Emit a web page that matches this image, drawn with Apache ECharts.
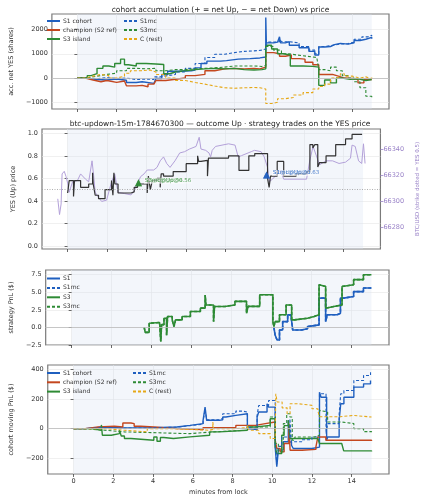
<!DOCTYPE html>
<html>
<head>
<meta charset="utf-8">
<script src="https://cdn.jsdelivr.net/npm/echarts@6/dist/echarts.min.js"></script>
<style>
html, body { margin: 0; padding: 0; background: #fff; }
#chart { width: 429px; height: 500px; }
</style>
</head>
<body>
<div id="chart"></div>
<script>
// ---- data: [minutes from lock, value] ----
var xTicks = [0, 2, 4, 6, 8, 10, 12, 14];
var shadeRange = [0, 15];

// panel 1: accumulated net YES shares
var accS1 = [[0,0],[0.5,-60],[1.0,-80],[1.5,-40],[2.0,-90],[2.5,-180],[3.0,-150],[3.3,-220],[3.9,-190],[4.0,-20],[4.3,150],[4.6,280],[5.2,300],[5.8,330],[6.0,420],[6.3,600],[6.6,700],[7.3,720],[7.6,780],[8.2,800],[8.8,830],[9.3,870],[9.6,2500],[9.63,1450],[10.0,1480],[10.2,1400],[10.3,1700],[10.35,1450],[10.6,1500],[10.8,1350],[11.3,1250],[11.8,1100],[12.1,950],[12.3,1280],[12.6,1300],[12.9,1380],[13.1,1430],[13.4,1400],[13.8,1450],[14.1,1550],[14.4,1600],[14.7,1680],[15.0,1620]];
var accS1mc = [[0,0],[0.5,-30],[1.0,20],[1.5,-20],[2.0,0],[2.5,-60],[3.0,-40],[3.5,-60],[3.9,50],[4.2,100],[4.6,150],[5.0,250],[5.5,400],[6.0,600],[6.5,850],[7.0,980],[7.5,1050],[8.0,1100],[8.5,1120],[9.0,1150],[9.4,1200],[9.6,1350],[9.7,1480],[10.0,1500],[10.3,1600],[10.4,1500],[10.8,1450],[11.3,1300],[11.8,1150],[12.1,1000],[12.3,1300],[12.6,1350],[13.0,1400],[13.4,1420],[13.8,1480],[14.1,1600],[14.5,1700],[14.8,1760],[15.0,1720]];
var accChamp = [[0,0],[0.4,-80],[0.8,-150],[1.2,-100],[1.5,-180],[2.0,-120],[2.4,-200],[2.5,-320],[3.0,-300],[3.3,-360],[3.6,-250],[3.9,-300],[4.0,-100],[4.5,-50],[5.0,0],[5.5,100],[6.0,150],[6.5,300],[7.0,380],[7.5,400],[8.0,380],[8.5,400],[9.0,380],[9.3,450],[9.6,1050],[10.0,1000],[10.3,900],[10.6,950],[10.9,800],[11.3,780],[11.6,650],[12.0,550],[12.3,150],[12.7,150],[13.0,80],[13.3,0],[13.6,-20],[14.0,-50],[14.3,-200],[14.6,-60],[15.0,-80]];
var accS3 = [[0,0],[0.5,100],[0.7,180],[1.0,400],[1.3,500],[1.6,450],[1.9,600],[2.2,780],[2.4,550],[2.6,500],[3.0,600],[3.5,580],[4.0,560],[4.4,180],[4.7,250],[5.0,300],[5.5,350],[6.0,380],[6.5,400],[7.0,380],[7.5,400],[8.0,350],[8.5,330],[9.0,350],[9.4,380],[9.6,1350],[9.9,1200],[10.2,1000],[10.5,950],[10.85,500],[11.5,480],[12.0,450],[12.3,-300],[12.6,-80],[12.9,-200],[13.2,0],[13.5,-50],[13.9,-30],[14.3,-100],[14.7,-60],[15.0,-50]];
var accS3mc = [[0,0],[0.5,80],[1.0,150],[1.5,200],[2.0,300],[2.5,400],[3.0,380],[3.5,400],[4.0,300],[4.5,350],[5.0,350],[5.5,380],[6.0,400],[6.5,420],[7.0,450],[7.5,500],[8.0,500],[8.5,500],[9.0,480],[9.4,520],[9.6,1300],[10.0,1150],[10.4,1000],[10.8,950],[11.2,900],[11.7,850],[12.2,820],[12.3,350],[12.6,300],[12.9,450],[13.2,300],[13.5,100],[13.8,0],[14.1,-150],[14.4,-400],[14.7,-750],[15.0,-850]];
var accRest = [[0,0],[0.4,80],[0.8,150],[1.2,100],[1.6,0],[2.0,80],[2.4,200],[2.7,300],[3.2,330],[3.7,250],[4.0,150],[4.5,0],[5.0,-100],[5.5,-180],[6.0,-250],[6.5,-330],[7.0,-400],[7.5,-420],[8.0,-400],[8.5,-390],[9.0,-400],[9.3,-450],[9.6,-1050],[9.9,-1000],[10.2,-850],[10.6,-800],[11.0,-700],[11.5,-600],[12.0,-450],[12.3,-350],[12.6,-250],[12.9,0],[13.2,60],[13.4,180],[13.6,80],[14.0,0],[14.4,50],[14.7,-30],[15.0,50]];

// panel 2: YES price and BTC
var yesPrice = [[0,0.47],[0.08,0.58],[0.3,0.44],[0.35,0.58],[0.66,0.52],[1.07,0.55],[1.27,0.65],[1.3,0.55],[1.4,0.45],[1.57,0.42],[1.9,0.5],[2.23,0.58],[2.3,0.45],[2.35,0.65],[2.4,0.55],[2.56,0.47],[3.22,0.48],[3.38,0.52],[3.55,0.55],[4.04,0.47],[4.1,0.62],[4.2,0.5],[4.3,0.58],[4.54,0.6],[4.7,0.52],[4.75,0.64],[4.87,0.62],[5.36,0.66],[6.02,0.73],[6.6,0.8],[6.65,0.75],[6.77,0.76],[7.1,0.62],[7.15,0.78],[8.17,0.8],[8.7,0.67],[9.2,0.8],[9.5,0.82],[10.15,0.6],[10.23,0.52],[10.3,0.62],[10.64,0.75],[10.97,0.62],[11.6,0.64],[12.13,0.66],[12.3,0.9],[12.45,0.87],[12.55,0.9],[12.7,0.7],[12.79,0.74],[13.12,0.8],[13.61,0.9],[14.11,0.95],[14.44,0.99],[14.95,0.99]];
var btcPrice = [[-0.5,66302],[-0.41,66290],[-0.33,66298],[-0.28,66321],[-0.17,66323],[-0.08,66319],[0,66314],[0.08,66307],[0.25,66315],[0.5,66316],[0.66,66321],[0.91,66317],[1.07,66315],[1.24,66331],[1.32,66320],[1.4,66307],[1.57,66303],[1.73,66300],[1.98,66301],[2.23,66315],[2.39,66321],[2.56,66307],[2.89,66306],[3.22,66305],[3.38,66308],[3.55,66314],[3.71,66319],[3.88,66321],[4.04,66324],[4.37,66324],[4.54,66326],[4.7,66331],[4.87,66334],[5.03,66329],[5.2,66326],[5.45,66331],[5.69,66337],[5.94,66338],[6.19,66340],[6.52,66342],[6.68,66349],[6.77,66340],[7.01,66339],[7.18,66337],[7.26,66334],[7.34,66339],[7.51,66342],[8.17,66344],[8.5,66343],[8.66,66334],[8.83,66335],[9.16,66337],[9.32,66338],[9.49,66339],[9.82,66338],[9.98,66334],[10.15,66326],[10.23,66315],[10.4,66317],[10.64,66321],[10.81,66324],[10.97,66317],[12.13,66317],[12.29,66331],[12.46,66342],[12.79,66328],[13.12,66331],[13.45,66331],[13.78,66329],[14.11,66330],[14.36,66333],[14.44,66343],[14.6,66342],[14.77,66331],[14.93,66329],[15.02,66344],[15.1,66329]];
var strikeYes = 0.5;
var trades = [
  { name: 'S3', t: 3.6, p: 0.56, color: '#2e8b35' },
  { name: 'S3mc', t: 3.6, p: 0.56, color: '#2e8b35' },
  { name: 'S1', t: 10.1, p: 0.63, color: '#1f5fbf' },
  { name: 'S1mc', t: 10.1, p: 0.63, color: '#1f5fbf' }
];

// panel 3: strategy PnL
var pnlS3 = [[3.63,0],[3.68,-0.7],[3.88,0.6],[3.96,0.7],[4.4,0.7],[4.46,-2.0],[4.5,0.4],[4.62,1.3],[4.75,-1.1],[4.8,1.55],[5.03,1.07],[5.12,0.12],[5.2,1.07],[5.53,1.55],[5.94,2.26],[6.44,2.74],[6.68,4.6],[6.72,3.2],[7.1,0.83],[7.15,2.98],[7.67,3.2],[8.17,3.7],[8.75,2.0],[8.83,3.0],[9.41,4.64],[10.07,0.83],[10.12,0.12],[10.18,0.83],[10.4,1.8],[10.73,3.2],[11.01,1.07],[11.14,1.3],[11.8,1.55],[12.13,1.8],[12.38,6.07],[12.46,5.83],[12.71,2.74],[12.79,2.98],[13.12,3.2],[13.53,5.83],[13.61,6.07],[14.11,6.8],[14.6,7.5],[15.0,7.55]];
var pnlS3mc = pnlS3;
var pnlS1 = [[10.12,0],[10.18,-1.07],[10.28,-1.79],[10.4,-0.36],[10.56,0.83],[10.81,1.79],[10.97,1.55],[11.06,-0.36],[11.5,-0.2],[11.8,0.12],[11.9,0.36],[12.38,4.17],[12.71,0.83],[12.79,1.8],[13.28,2.0],[13.45,4.17],[13.61,4.4],[14.11,5.1],[14.6,5.6],[15.0,5.65]];
var pnlS1mc = pnlS1;

// panel 4: cohort moving PnL
var movS1 = [[0,0],[0.58,11],[1.57,5],[2.39,7],[4.04,11],[5.2,22],[5.86,34],[6.52,56],[6.62,145],[6.7,56],[7.34,60],[7.51,78],[7.67,89],[8.17,100],[8.75,0],[8.83,-7],[9.24,78],[9.32,112],[9.74,168],[9.82,145],[10.15,-123],[10.23,-257],[10.31,-145],[10.56,-89],[10.81,56],[10.86,-90],[10.97,-112],[11.06,-134],[12.0,-125],[12.38,246],[12.46,212],[12.74,-78],[12.79,-56],[13.37,56],[13.45,168],[13.61,212],[14.11,280],[14.6,302],[14.95,324]];
var movS1mc = [[0,0],[0.58,8],[1.57,3],[2.39,5],[4.04,10],[5.2,20],[5.86,30],[6.52,50],[6.62,130],[6.7,60],[7.34,70],[7.51,100],[8.17,118],[8.5,112],[8.75,10],[8.83,0],[9.24,90],[9.32,156],[9.82,190],[10.15,-100],[10.23,-240],[10.31,-120],[10.48,-56],[10.89,67],[10.97,-89],[11.5,-75],[12.0,-56],[12.38,235],[12.71,-34],[12.79,34],[13.37,100],[13.45,235],[13.61,257],[14.11,324],[14.6,358],[14.95,380]];
var movChamp = [[0,0],[0.58,11],[1.24,16],[2.06,11],[2.48,38],[2.89,34],[3.05,16],[3.38,11],[4.04,0],[5.2,-7],[6.52,7],[8.17,22],[9.16,34],[9.65,45],[10.15,-78],[10.23,-134],[10.4,-157],[10.6,-100],[10.84,34],[10.9,-146],[11.5,-140],[12.2,-123],[12.3,-56],[12.7,-78],[15.0,-83]];
var movS3 = [[0,0],[0.91,-11],[1.4,25],[1.45,-45],[1.9,-34],[2.31,-10],[2.4,-50],[2.56,-67],[2.89,-78],[4.04,-56],[4.2,-85],[4.37,-60],[4.54,-67],[5.03,-56],[5.86,-45],[6.85,-22],[7.34,-11],[8.75,11],[9.16,22],[9.9,67],[10.15,-123],[10.23,-168],[10.48,-45],[10.6,20],[10.81,56],[10.9,-67],[12.3,-67],[12.38,-100],[13.5,-100],[13.6,-150],[15.0,-155]];
var movS3mc = [[0,0],[0.5,-11],[1.57,-22],[2.56,-34],[5.86,-22],[7.0,-11],[8.75,11],[9.9,78],[10.15,-100],[10.31,-156],[10.56,34],[10.73,100],[10.89,78],[11.01,-78],[11.14,-56],[12.13,-45],[12.38,123],[12.46,112],[12.79,45],[13.45,34],[14.11,0],[14.6,-20],[15.0,-25]];
var movRest = [[0,0],[1.57,-11],[2.56,-22],[3.71,0],[4.87,-11],[6.85,-5],[7.01,45],[7.05,0],[8.17,7],[8.75,22],[8.83,-11],[9.32,-34],[9.9,-67],[10.15,-67],[10.18,235],[10.25,180],[10.5,140],[10.75,100],[10.9,168],[11.3,157],[12.0,134],[12.3,120],[12.38,80],[13.4,89],[14.1,78],[15.0,78]];

// ---- styling ----
var C_BLUE = '#1f5fbf', C_RED = '#c4471f', C_GREEN = '#2e8b35', C_GOLD = '#e6a817';
var C_BTC = '#b3a1d9', C_BTC_TXT = '#9a83c8';
var FONT = 'DejaVu Sans';
var DASH = [3, 2];

var grids = [
  { left: 42, top: 14, width: 347, height: 95 },
  { left: 42, top: 129, width: 346, height: 120 },
  { left: 42, top: 270, width: 347, height: 75 },
  { left: 42, top: 365, width: 347, height: 109 }
];
grids.forEach(function (g) {
  g.show = true; g.borderColor = '#7a7a7a'; g.borderWidth = 1.2; g.backgroundColor = '#fff';
});

function minus(v) { return v < 0 ? '\u2212' + Math.abs(v) : String(v); }

function xAx(i) {
  return {
    gridIndex: i, type: 'value', min: -1.3, max: 15.88,
    axisLine: { show: false, onZero: false },
    axisTick: { show: true, length: 3, customValues: xTicks, lineStyle: { color: '#444', width: 0.8 } },
    axisLabel: { show: i === 3, customValues: xTicks, fontSize: 6.5, color: '#333', margin: 4, fontFamily: FONT },
    splitLine: { show: true, lineStyle: { color: '#e6e6e6', width: 0.6 } },
    name: i === 3 ? 'minutes from lock' : '', nameLocation: 'middle', nameGap: 15,
    nameTextStyle: { fontSize: 6.5, color: '#333', fontFamily: FONT }
  };
}

function yAx(i, min, max, ticks, name, gap, fmt) {
  return {
    gridIndex: i, type: 'value', min: min, max: max,
    axisLine: { show: false },
    axisTick: { show: true, length: 3, customValues: ticks, lineStyle: { color: '#444', width: 0.8 } },
    axisLabel: { customValues: ticks, fontSize: 6.5, color: '#333', margin: 4, fontFamily: FONT, formatter: fmt || minus },
    splitLine: { show: true, lineStyle: { color: '#e6e6e6', width: 0.6 } },
    name: name, nameLocation: 'middle', nameGap: gap, nameRotate: 90,
    nameTextStyle: { fontSize: 6.5, color: '#333', fontFamily: FONT }
  };
}

var fmt1 = function (v) { return v < 0 ? '\u2212' + Math.abs(v).toFixed(1) : v.toFixed(1); };
var btcTicks = [66280, 66300, 66320, 66340];

var yAxes = [
  yAx(0, -1275, 2641, [-1000, 0, 1000, 2000], 'acc. net YES (shares)', 33),
  yAx(1, -0.027, 1.038, [0, 0.2, 0.4, 0.6, 0.8, 1.0], 'YES (Up) price', 21, fmt1),
  {
    gridIndex: 1, type: 'value', position: 'right', min: 66263.7, max: 66355.3,
    axisLine: { show: false },
    axisTick: { show: true, length: 3, customValues: btcTicks, lineStyle: { color: C_BTC_TXT, width: 0.8 } },
    axisLabel: { customValues: btcTicks, fontSize: 6.5, color: C_BTC_TXT, margin: 3, fontFamily: FONT,
      formatter: function (v) { return String(v); } },
    splitLine: { show: false },
    name: 'BTC/USD (strike dotted = YES 0.5)', nameLocation: 'middle', nameGap: 30, nameRotate: 90,
    nameTextStyle: { fontSize: 5.5, color: C_BTC_TXT, fontFamily: FONT }
  },
  yAx(2, -2.5, 8.17, [-2.5, 0, 2.5, 5, 7.5], 'strategy PnL ($)', 25, fmt1),
  yAx(3, -306, 429, [-200, 0, 200, 400], 'cohort moving PnL ($)', 28)
];

function shade() {
  return { silent: true, itemStyle: { color: 'rgba(215,224,242,0.3)' }, data: [[{ xAxis: shadeRange[0] }, { xAxis: shadeRange[1] }]] };
}
function zeroLine(y, type, color) {
  return { silent: true, symbol: 'none', label: { show: false }, lineStyle: { color: color || '#bbbbbb', width: 0.8, type: type || 'solid' }, data: [{ yAxis: y }] };
}

function line(name, data, xi, yi, color, dashed, width, extra) {
  var s = {
    name: name, type: 'line', data: data, xAxisIndex: xi, yAxisIndex: yi,
    step: 'end', symbol: 'none', showSymbol: false,
    lineStyle: { color: color, width: width || 1.4, type: dashed ? DASH : 'solid' },
    itemStyle: { color: color }
  };
  if (extra) for (var k in extra) s[k] = extra[k];
  return s;
}

var series = [
  // panel 1
  line('S1 cohort', accS1, 0, 0, C_BLUE, false, 1.4, { markArea: shade(), markLine: zeroLine(0) }),
  line('champion (S2 ref)', accChamp, 0, 0, C_RED, false, 1.4),
  line('S3 island', accS3, 0, 0, C_GREEN, false, 1.4),
  line('S1mc', accS1mc, 0, 0, C_BLUE, true, 1.1),
  line('S3mc', accS3mc, 0, 0, C_GREEN, true, 1.1),
  line('C (rest)', accRest, 0, 0, C_GOLD, true, 1.1),
  // panel 2
  line('BTC', btcPrice, 1, 2, C_BTC, false, 1.0, { step: false }),
  line('YES', yesPrice, 1, 1, '#333333', false, 1.2, { markArea: shade(), markLine: zeroLine(strikeYes, [1, 1.5], '#9a9a9a') }),
  {
    name: 'trades', type: 'scatter', xAxisIndex: 1, yAxisIndex: 1,
    symbol: 'triangle', symbolSize: 7, z: 5,
    data: trades.map(function (d) {
      return {
        value: [d.t, d.p],
        itemStyle: { color: d.color },
        label: {
          show: true, position: 'right', distance: 2, offset: [0, -2],
          formatter: d.name + '@Up@' + d.p.toFixed(2),
          fontSize: 5.5, fontFamily: FONT, color: d.color,
          backgroundColor: 'rgba(255,255,255,0.45)', padding: [0, 1]
        }
      };
    })
  },
  // panel 3
  line('S1', pnlS1, 2, 3, C_BLUE, false, 1.6, { markArea: shade(), markLine: zeroLine(0) }),
  line('S1mc', pnlS1mc, 2, 3, C_BLUE, true, 1.6),
  line('S3', pnlS3, 2, 3, C_GREEN, false, 1.6),
  line('S3mc', pnlS3mc, 2, 3, C_GREEN, true, 1.6),
  // panel 4
  line('S1 cohort', movS1, 3, 4, C_BLUE, false, 1.4, { markArea: shade(), markLine: zeroLine(0) }),
  line('champion (S2 ref)', movChamp, 3, 4, C_RED, false, 1.4),
  line('S3 island', movS3, 3, 4, C_GREEN, false, 1.4),
  line('S1mc', movS1mc, 3, 4, C_BLUE, true, 1.1),
  line('S3mc', movS3mc, 3, 4, C_GREEN, true, 1.1),
  line('C (rest)', movRest, 3, 4, C_GOLD, true, 1.1)
];

function legend(names, left, top, gap) {
  return {
    data: names, left: left, top: top, orient: 'vertical',
    itemWidth: 13, itemHeight: 6, itemGap: gap, padding: 0,
    selectedMode: false,
    itemStyle: { opacity: 0 },
    textStyle: { fontSize: 6, color: '#333', fontFamily: FONT, padding: [0, 0, 0, -2] }
  };
}

var chart = echarts.init(document.getElementById('chart'), null, { renderer: 'canvas' });
chart.setOption({
  animation: false,
  backgroundColor: '#fff',
  title: [
    { text: 'cohort accumulation (+ = net Up, \u2212 = net Down) vs price', left: 215.5, textAlign: 'center', top: 1,
      textStyle: { fontSize: 7.5, fontWeight: 'normal', color: '#222', fontFamily: FONT } },
    { text: 'btc-updown-15m-1784670300 \u2014 outcome Up \u00b7 strategy trades on the YES price', left: 215, textAlign: 'center', top: 115,
      textStyle: { fontSize: 7.5, fontWeight: 'normal', color: '#222', fontFamily: FONT } }
  ],
  legend: [
    legend(['S1 cohort', 'champion (S2 ref)', 'S3 island'], 46, 18, 3),
    legend(['S1mc', 'S3mc', 'C (rest)'], 123, 18, 3),
    legend(['S1', 'S1mc', 'S3', 'S3mc'], 46, 275.5, 3.4),
    legend(['S1 cohort', 'champion (S2 ref)', 'S3 island'], 46, 370, 3.3),
    legend(['S1mc', 'S3mc', 'C (rest)'], 132, 370, 3.3)
  ],
  grid: grids,
  xAxis: [xAx(0), xAx(1), xAx(2), xAx(3)],
  yAxis: yAxes,
  series: series
});
</script>
</body>
</html>
